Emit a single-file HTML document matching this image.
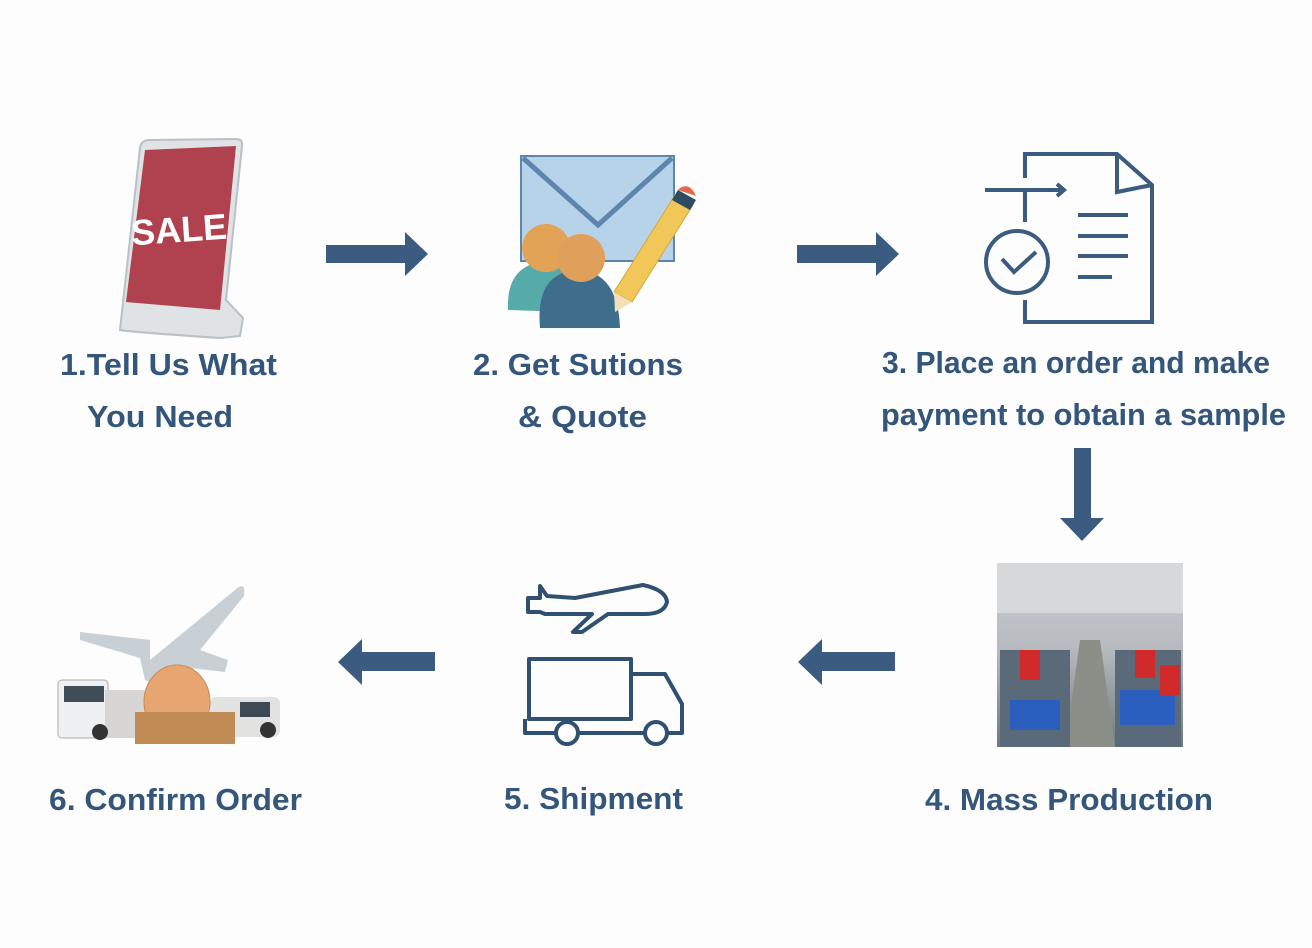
<!DOCTYPE html>
<html><head><meta charset="utf-8"><style>
html,body{margin:0;padding:0;background:#fdfdfd;}
svg{display:block}
text{font-family:"Liberation Sans",sans-serif;font-weight:bold;fill:#34567a;font-size:31px}
</style></head><body>
<svg width="1312" height="948" viewBox="0 0 1312 948" xmlns="http://www.w3.org/2000/svg">
<rect width="1312" height="948" fill="#fdfdfd"/>
<!-- SALE sign -->
<path d="M120 330 L140 148 Q141 140 150 140 L236 139 Q243 139 242 146 L226 300 L243 318 L240 336 L220 338 Q130 332 120 330Z" fill="#dfe3e6" stroke="#b9c0c6" stroke-width="2"/>
<polygon points="145,150 236,146 220,310 126,302" fill="#b04250"/>
<text x="179" y="242" text-anchor="middle" transform="rotate(-4 179 230)" style="fill:#fff;font-size:36px">SALE</text>
<!-- arrow 1 -->
<polygon points="326,245 405,245 405,232 428,254 405,276 405,263 326,263" fill="#3b5b80"/>
<!-- envelope -->
<rect x="521" y="156" width="153" height="105" fill="#b6d3ea" stroke="#5e86ad" stroke-width="2"/>
<polyline points="523,158 598,225 672,158" fill="none" stroke="#5e86ad" stroke-width="5"/>
<!-- people -->
<path d="M508 310 Q506 268 540 262 L560 262 Q575 280 570 312Z" fill="#56aaa8"/>
<circle cx="546" cy="248" r="24" fill="#e3a357"/>
<path d="M540 328 Q535 272 578 270 Q618 272 620 328Z" fill="#3f6e8c"/>
<circle cx="581" cy="258" r="24" fill="#dea05a"/>
<!-- pencil -->
<polygon points="675,195 693,205 632,302 614,292" fill="#f2c75a" stroke="#d4a53c" stroke-width="1"/>
<polygon points="614,292 632,302 615,312" fill="#f2dfb8"/>
<polygon points="678,190 696,200 690,210 672,200" fill="#2e4d63"/>
<path d="M680 188 Q690 182 696 196 L678 190Z" fill="#e8664a"/>
<!-- arrow 2 -->
<polygon points="797,245 876,245 876,232 899,254 876,276 876,263 797,263" fill="#3b5b80"/>
<!-- document -->
<g fill="none" stroke="#3b5b80" stroke-width="4">
<polyline points="1025,178 1025,154 1117,154 1152,185 1152,322 1025,322 1025,300"/>
<polyline points="1117,154 1117,192 1152,185"/>
<line x1="985" y1="190" x2="1064" y2="190"/>
<polyline points="1057,184 1064,190 1057,196"/>
<line x1="1025" y1="190" x2="1025" y2="222"/>
<circle cx="1017" cy="262" r="31"/>
<polyline points="1002,259 1014,272 1036,252"/>
<line x1="1078" y1="215" x2="1128" y2="215"/>
<line x1="1078" y1="236" x2="1128" y2="236"/>
<line x1="1078" y1="256" x2="1128" y2="256"/>
<line x1="1078" y1="277" x2="1112" y2="277"/>
</g>
<!-- labels row1 -->
<text x="60" y="375" textLength="217" lengthAdjust="spacingAndGlyphs">1.Tell Us What</text>
<text x="87" y="427" textLength="146" lengthAdjust="spacingAndGlyphs">You Need</text>
<text x="473" y="375" textLength="210" lengthAdjust="spacingAndGlyphs">2. Get Sutions</text>
<text x="518" y="427" textLength="129" lengthAdjust="spacingAndGlyphs">&amp; Quote</text>
<text x="882" y="373" textLength="388" lengthAdjust="spacingAndGlyphs">3. Place an order and make</text>
<text x="881" y="425" textLength="405" lengthAdjust="spacingAndGlyphs">payment to obtain a sample</text>
<!-- down arrow -->
<polygon points="1074,448 1091,448 1091,518 1104,518 1082,541 1060,518 1074,518" fill="#3b5b80"/>
<!-- factory photo -->
<defs><linearGradient id="fg" x1="0" y1="0" x2="0" y2="1"><stop offset="0" stop-color="#c9ccd0"/><stop offset="0.45" stop-color="#b8bcc0"/><stop offset="1" stop-color="#6f7a7c"/></linearGradient></defs>
<rect x="997" y="563" width="186" height="184" fill="url(#fg)"/>
<rect x="997" y="563" width="186" height="50" fill="#d6d8da"/>
<polygon points="1080,640 1100,640 1115,747 1065,747" fill="#8a9088"/>
<rect x="1000" y="650" width="70" height="97" fill="#5b6a78"/>
<rect x="1115" y="650" width="66" height="97" fill="#5b6a78"/>
<rect x="1010" y="700" width="50" height="30" fill="#2a5fc0"/>
<rect x="1120" y="690" width="55" height="35" fill="#2a5fc0"/>
<rect x="1020" y="650" width="20" height="30" fill="#d02a2a"/>
<rect x="1135" y="650" width="20" height="28" fill="#d02a2a"/>
<rect x="1160" y="665" width="20" height="30" fill="#d02a2a"/>
<!-- arrows left -->
<polygon points="895,652 822,652 822,639 798,662 822,685 822,671 895,671" fill="#3b5b80"/>
<polygon points="435,652 362,652 362,639 338,662 362,685 362,671 435,671" fill="#3b5b80"/>
<!-- shipment -->
<g fill="none" stroke="#2f5070" stroke-width="4" stroke-linejoin="round">
<path d="M540 586 L547 596 L575 598 L643 585 Q666 590 667 602 Q664 614 645 614 L608 614 L582 632 L573 632 L592 614 L545 614 L540 612 L528 612 L528 598 L540 598Z"/>
<rect x="529" y="659" width="102" height="60"/>
<path d="M631 674 L665 674 L682 704 L682 733 L525 733 L525 719"/>
<circle cx="567" cy="733" r="11" fill="#fff"/>
<circle cx="656" cy="733" r="11" fill="#fff"/>
</g>
<!-- confirm order illustration -->
<path d="M150 660 L235 590 Q246 580 244 596 L200 650 L228 660 L225 672 L190 668 L170 690 L145 680 L140 658 L80 640 L80 632 L150 640Z" fill="#c8d0d6"/>
<rect x="58" y="680" width="50" height="58" rx="4" fill="#eef0f1" stroke="#aaa"/>
<rect x="64" y="686" width="40" height="16" fill="#3f4d58"/>
<rect x="105" y="690" width="40" height="48" fill="#d8d6d4"/>
<rect x="210" y="697" width="70" height="40" rx="6" fill="#e2e2e0"/>
<rect x="240" y="702" width="30" height="15" fill="#3d4a55"/>
<ellipse cx="177" cy="702" rx="33" ry="37" fill="#e6a571" stroke="#c88a57"/>
<rect x="135" y="712" width="100" height="32" fill="#c18b55"/>
<circle cx="100" cy="732" r="8" fill="#333"/><circle cx="268" cy="730" r="8" fill="#333"/>
<!-- row2 labels -->
<text x="49" y="810" textLength="253" lengthAdjust="spacingAndGlyphs">6. Confirm Order</text>
<text x="504" y="809" textLength="179" lengthAdjust="spacingAndGlyphs">5. Shipment</text>
<text x="925" y="810" textLength="288" lengthAdjust="spacingAndGlyphs">4. Mass Production</text>
</svg>
</body></html>
